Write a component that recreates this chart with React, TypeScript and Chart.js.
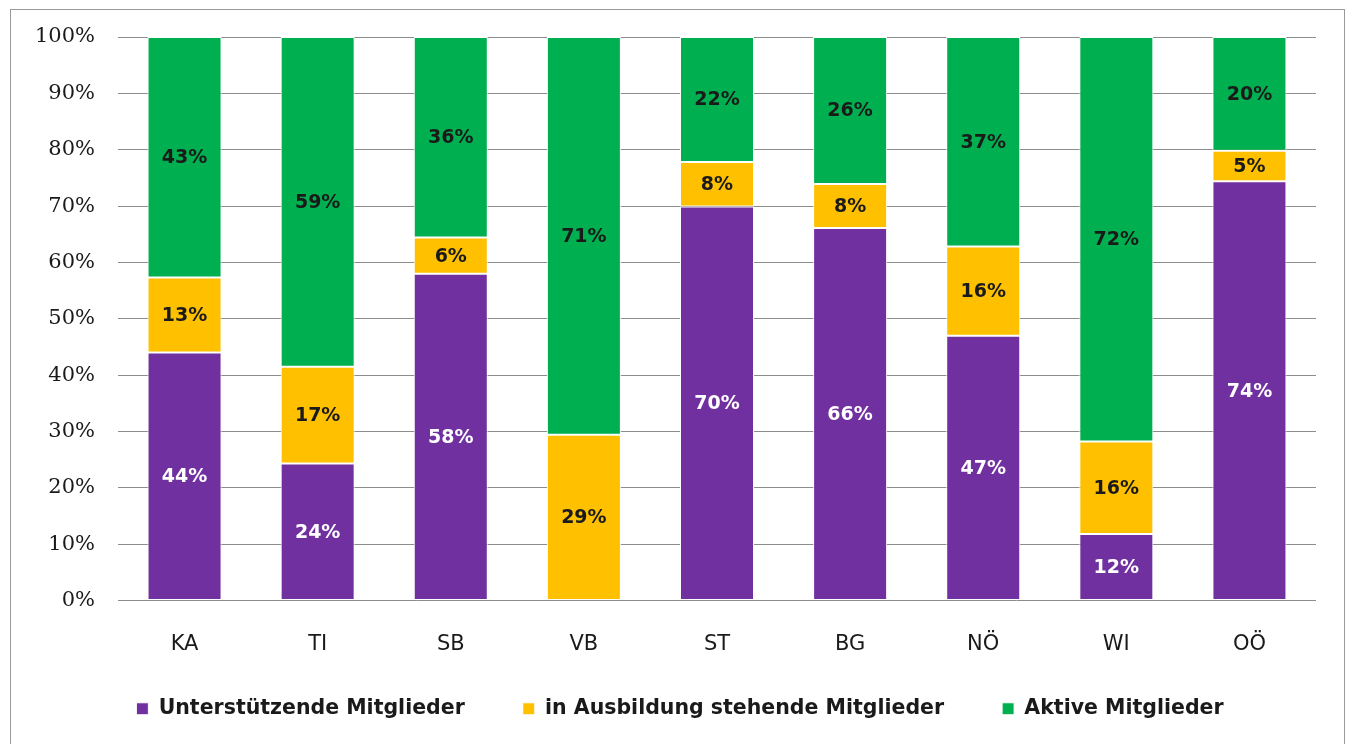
import React, { useEffect, useRef } from "react";
import { Chart, registerables } from "chart.js";

Chart.register(...registerables);

const categories = ["KA", "TI", "SB", "VB", "ST", "BG", "NÖ", "WI", "OÖ"];
const supporting = [44.0, 24.3, 58.0, 0, 69.9, 66.1, 47.0, 11.8, 74.4];
const training = [13.3, 17.2, 6.4, 29.4, 7.9, 7.8, 15.8, 16.4, 5.4];
const active = [42.7, 58.5, 35.6, 70.6, 22.2, 26.1, 37.2, 71.8, 20.2];
const seriesNames = [
  "Unterstützende Mitglieder",
  "in Ausbildung stehende Mitglieder",
  "Aktive Mitglieder",
];
const seriesColors = ["#7030A0", "#FFC000", "#00B050"];
const labelColors = ["#ffffff", "#1a1a1a", "#1a1a1a"];
const yMin = 0;
const yMax = 100;
const yStep = 10;

const SANS = "'DejaVu Sans', sans-serif";

const valueLabels = {
  id: "valueLabels",
  afterDatasetsDraw(chart: any) {
    const { ctx } = chart;
    ctx.save();
    ctx.font = `bold 19px ${SANS}`;
    ctx.textAlign = "center";
    ctx.textBaseline = "middle";
    chart.data.datasets.forEach((ds: any, di: number) => {
      const meta = chart.getDatasetMeta(di);
      meta.data.forEach((el: any, i: number) => {
        const v = ds.data[i];
        if (!v) return;
        const p = el.getProps(["x", "y", "base"], true);
        ctx.fillStyle = labelColors[di];
        ctx.fillText(Math.round(v) + "%", p.x, (p.y + p.base) / 2 + 1);
      });
    });
    ctx.restore();
  },
};

// pull the legend up (closer to the category labels) and centre it like the original
const legendShift = {
  id: "legendShift",
  afterLayout(chart: any) {
    const lg = chart.legend;
    if (lg) {
      lg.top -= 22;
      lg.bottom -= 22;
      lg.left += 22;
      lg.right += 22;
    }
  },
};

export default function App() {
  const ref = useRef<HTMLCanvasElement | null>(null);

  useEffect(() => {
    if (!ref.current) return;
    const values = [supporting, training, active];
    const chart = new Chart(ref.current, {
      type: "bar",
      data: {
        labels: categories,
        datasets: values.map((d, i) => ({
          label: seriesNames[i],
          data: d,
          backgroundColor: seriesColors[i],
          borderColor: "#ffffff",
          borderWidth: 1,
          borderSkipped: false,
          categoryPercentage: 1,
          barPercentage: 0.556,
        })),
      },
      options: {
        responsive: false,
        animation: false,
        layout: { padding: { left: 0, right: 35, top: 37, bottom: -7 } },
        plugins: {
          tooltip: { enabled: false },
          legend: {
            position: "bottom",
            labels: {
              boxWidth: 12,
              boxHeight: 12,
              padding: 58,
              color: "#1a1a1a",
              font: { family: SANS, size: 20.5, weight: "bold" },
            },
          },
        },
        scales: {
          x: {
            stacked: true,
            grid: { display: false, drawTicks: false },
            border: { display: false },
            ticks: {
              padding: 31,
              color: "#1a1a1a",
              font: { family: SANS, size: 21 },
            },
            afterFit: (s: any) => {
              s.height = 62;
            },
          },
          y: {
            stacked: true,
            min: yMin,
            max: yMax,
            grid: { color: "#8c8c8c", lineWidth: 1, drawTicks: false },
            border: { display: false },
            ticks: {
              stepSize: yStep,
              padding: 23,
              color: "#1a1a1a",
              font: { family: "'DejaVu Serif', serif", size: 21 },
              callback: (v: any) => v + "%",
            },
            afterFit: (s: any) => {
              s.width = 118;
            },
          },
        },
      },
      plugins: [valueLabels, legendShift],
    });
    return () => chart.destroy();
  }, []);

  return (
    <div
      style={{
        position: "fixed",
        left: 0,
        top: 0,
        width: 1351,
        height: 744,
        background: "#fff",
        overflow: "hidden",
      }}
    >
      <div
        style={{
          position: "absolute",
          left: 10,
          top: 9,
          width: 1333,
          height: 800,
          border: "1px solid #9a9a9a",
        }}
      />
      <canvas
        ref={ref}
        width={1351}
        height={744}
        style={{ position: "absolute", left: 0, top: 0 }}
      />
    </div>
  );
}
